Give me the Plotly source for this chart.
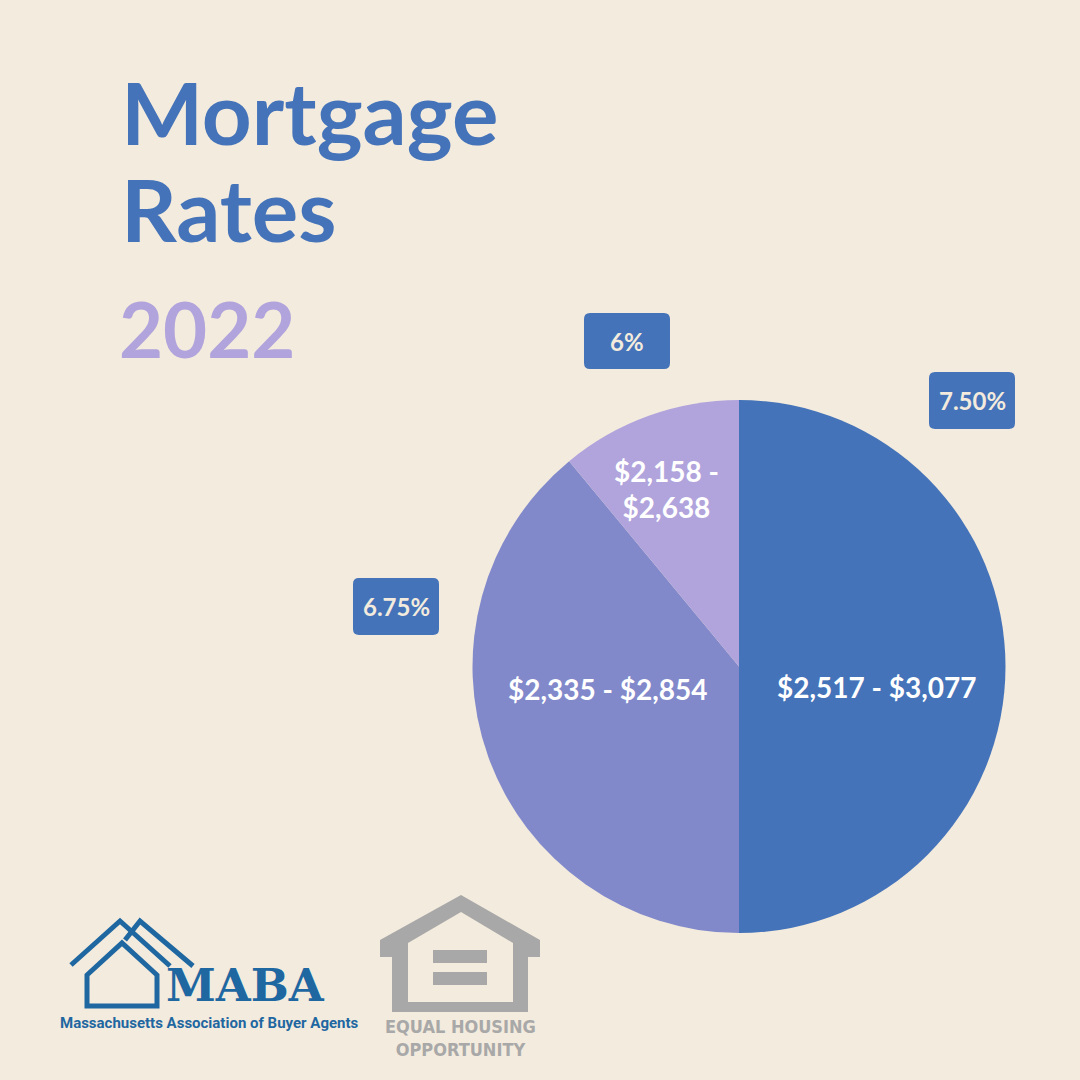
import plotly.graph_objects as go

# ---- data ----
rates = ["7.50%", "6.75%", "6%"]
payment_ranges = ["$2,517 - $3,077", "$2,335 - $2,854", "$2,158 -<br>$2,638"]
shares = [50, 39, 11]
slice_colors = ["#4473B9", "#8189CB", "#B1A4DC"]

BG = "#F3EBDD"
W = H = 1080
FONT = "Lato"


def px(x):
    return x / W


def py(y):
    return 1 - y / H


def path(points, close=True):
    s = "M " + " L ".join(f"{px(x):.5f},{py(y):.5f}" for x, y in points)
    return s + (" Z" if close else "")


def rrect(x0, y0, x1, y1, r):
    return (f"M {px(x0+r):.5f},{py(y0):.5f} L {px(x1-r):.5f},{py(y0):.5f} "
            f"Q {px(x1):.5f},{py(y0):.5f} {px(x1):.5f},{py(y0+r):.5f} "
            f"L {px(x1):.5f},{py(y1-r):.5f} "
            f"Q {px(x1):.5f},{py(y1):.5f} {px(x1-r):.5f},{py(y1):.5f} "
            f"L {px(x0+r):.5f},{py(y1):.5f} "
            f"Q {px(x0):.5f},{py(y1):.5f} {px(x0):.5f},{py(y1-r):.5f} "
            f"L {px(x0):.5f},{py(y0+r):.5f} "
            f"Q {px(x0):.5f},{py(y0):.5f} {px(x0+r):.5f},{py(y0):.5f} Z")


fig = go.Figure()
fig.add_trace(go.Pie(
    values=shares,
    labels=rates,
    sort=False,
    direction="clockwise",
    rotation=0,
    marker=dict(colors=slice_colors, line=dict(width=0)),
    textinfo="none",
    showlegend=False,
    hoverinfo="skip",
    domain=dict(x=[px(472), px(1006)], y=[py(933), py(400)]),
))

shapes = []
annotations = []

# slice value labels (positions inside each slice)
label_pos = [(877, 687), (608, 689), (666, 489)]
for (x, y), txt in zip(label_pos, payment_ranges):
    annotations.append(dict(x=px(x), y=py(y), xref="paper", yref="paper", text=txt,
                            showarrow=False, xanchor="center", yanchor="middle", align="center",
                            font=dict(family=FONT, size=28, color="white", weight="bold")))

# rate label boxes
boxes = [(929, 372, 1015, 429), (353, 578, 439, 635), (584, 313, 670, 369)]
for (x0, y0, x1, y1), lab in zip(boxes, rates):
    shapes.append(dict(type="path", path=rrect(x0, y0, x1, y1, 6), xref="paper", yref="paper",
                       fillcolor="#4473B9", line=dict(width=0), layer="above"))
    annotations.append(dict(x=px((x0 + x1) / 2), y=py((y0 + y1) / 2), xref="paper", yref="paper",
                            text=lab, showarrow=False, xanchor="center", yanchor="middle",
                            font=dict(family=FONT, size=24, color=BG, weight="bold")))

# titles
annotations.append(dict(x=px(119), y=py(166), xref="paper", yref="paper", text="Mortgage",
                        showarrow=False, xanchor="left", yanchor="bottom",
                        font=dict(family=FONT, size=87, color="#4473B9", weight="bold")))
annotations.append(dict(x=px(119), y=py(263), xref="paper", yref="paper", text="Rates",
                        showarrow=False, xanchor="left", yanchor="bottom",
                        font=dict(family=FONT, size=87, color="#4473B9", weight="bold")))
annotations.append(dict(x=px(117), y=py(376), xref="paper", yref="paper", text="2022",
                        showarrow=False, xanchor="left", yanchor="bottom",
                        font=dict(family=FONT, size=76, color="#B1A4DC", weight="bold")))

# ---- MABA logo ----
MB = "#1F67A1"
lw = 5
shapes.append(dict(type="path", path=path([(71, 965), (120, 921), (170, 966)], close=False),
                   xref="paper", yref="paper", line=dict(color=MB, width=lw)))
shapes.append(dict(type="path", path=path([(125, 940), (140, 921), (193, 966)], close=False),
                   xref="paper", yref="paper", line=dict(color=MB, width=lw)))
shapes.append(dict(type="path", path=path([(87, 975), (122, 943), (157, 975), (157, 1006), (87, 1006)]),
                   xref="paper", yref="paper", line=dict(color=MB, width=lw)))
annotations.append(dict(x=px(164), y=py(1014), xref="paper", yref="paper", text="MABA",
                        showarrow=False, xanchor="left", yanchor="bottom",
                        font=dict(family="DejaVu Serif", size=45, color=MB, weight="bold")))
annotations.append(dict(x=px(209), y=py(1023), xref="paper", yref="paper",
                        text="Massachusetts Association of Buyer Agents",
                        showarrow=False, xanchor="center", yanchor="middle",
                        font=dict(family="Roboto", size=15, color=MB, weight="bold")))

# ---- Equal housing logo ----
GR = "#A8A8A8"
shapes.append(dict(type="path",
                   path=path([(380, 940), (461, 895), (540, 940), (540, 957), (528, 957), (528, 1012),
                              (392, 1012), (392, 957), (380, 957)]),
                   xref="paper", yref="paper", fillcolor=GR, line=dict(width=0)))
shapes.append(dict(type="path", path=path([(408, 943), (461, 912), (513, 943), (513, 1002), (408, 1002)]),
                   xref="paper", yref="paper", fillcolor=BG, line=dict(width=0)))
shapes.append(dict(type="rect", x0=px(433), x1=px(487), y0=py(950), y1=py(963), xref="paper", yref="paper",
                   fillcolor=GR, line=dict(width=0)))
shapes.append(dict(type="rect", x0=px(433), x1=px(487), y0=py(972), y1=py(985), xref="paper", yref="paper",
                   fillcolor=GR, line=dict(width=0)))
EH_FONT = "DejaVu Sans Condensed, Liberation Sans Narrow, Roboto"
annotations.append(dict(x=px(460), y=py(1038), xref="paper", yref="paper",
                        text="EQUAL HOUSING<br>OPPORTUNITY",
                        showarrow=False, xanchor="center", yanchor="middle", align="center",
                        font=dict(family=EH_FONT, size=18, color=GR, weight="bold")))

fig.update_layout(
    width=W, height=H,
    paper_bgcolor=BG, plot_bgcolor=BG,
    margin=dict(l=0, r=0, t=0, b=0),
    shapes=shapes, annotations=annotations,
    font=dict(family=FONT),
)

fig.write_html("out.html", config=dict(displayModeBar=False),
               post_script="document.body.style.margin='0';document.body.style.background='" + BG + "';")
